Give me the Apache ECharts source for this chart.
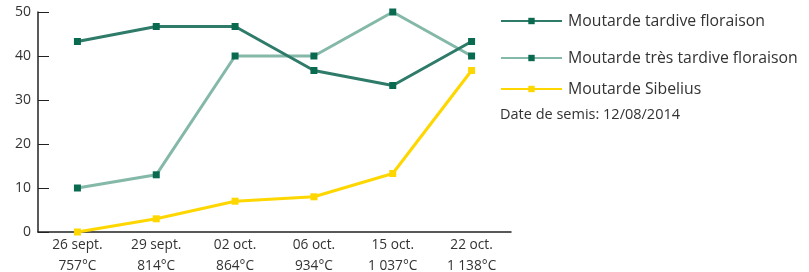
<!DOCTYPE html>
<html><head><meta charset="utf-8">
<script src="https://cdn.jsdelivr.net/npm/echarts@6/dist/echarts.min.js"></script>
<style>html,body{margin:0;padding:0;background:#fff}#c{width:809px;height:272px}</style>
</head><body><div id="c"></div>
<script>
const categories = ['26 sept.\n757°C','29 sept.\n814°C','02 oct.\n864°C','06 oct.\n934°C','15 oct.\n1 037°C','22 oct.\n1 138°C'];
const seriesNames = ['Moutarde tardive floraison','Moutarde très tardive floraison','Moutarde Sibelius'];
const tardive = [43.3, 46.7, 46.7, 36.7, 33.3, 43.3];
const tresTardive = [10, 13, 40, 40, 50, 40];
const sibelius = [0, 3, 7, 8, 13.3, 36.7];
const note = 'Date de semis: 12/08/2014';

const font = '"Open Sans", "Noto Sans", sans-serif';
const chart = echarts.init(document.getElementById('c'), null, {renderer:'canvas'});
const lineColors = ['#2e7b69', '#84b8a8', '#ffd700'];
const markColors = ['#0a6a50', '#0a6a50', '#ffd700'];
function legend(i, top){
  return {show:true, data:[seriesNames[i]], left:500, top:top, itemWidth:61, itemHeight:8,
    itemGap:0, textStyle:{fontFamily:font, fontSize:15.8, color:'#333', padding:[0,0,0,1]}, padding:0};
}
chart.setOption({
  animation:false,
  grid:{left:38, right:298, top:12, bottom:40, outerBoundsMode:'none', containLabel:false},
  legend:[legend(0,13), legend(1,50), legend(2,81)],
  graphic:[{type:'text', left:500, top:107, style:{text:note, font:'14.5px ' + font, fill:'#333'}}],
  xAxis:{type:'category', data:categories, boundaryGap:true,
    axisLine:{lineStyle:{color:'#222', width:1.5}},
    axisTick:{inside:true, length:5, lineStyle:{color:'#222'}},
    axisLabel:{fontFamily:font, fontSize:13.7, color:'#333', lineHeight:21, margin:3}},
  yAxis:{type:'value', min:0, max:50, interval:10,
    axisLine:{show:true, lineStyle:{color:'#222', width:1.5}},
    axisTick:{show:true, inside:true, length:11, lineStyle:{color:'#222'}},
    splitLine:{show:false},
    axisLabel:{fontFamily:font, fontSize:14, color:'#333', margin:7}},
  series:[tardive, tresTardive, sibelius].map((d,i)=>({
    name:seriesNames[i], type:'line', data:d, symbol:'rect', symbolSize:7,
    lineStyle:{color:lineColors[i], width:3},
    itemStyle:{color:markColors[i], borderWidth:0},
    z: i===2 ? 3 : (i===0 ? 2 : 1)
  }))
});
</script></body></html>
